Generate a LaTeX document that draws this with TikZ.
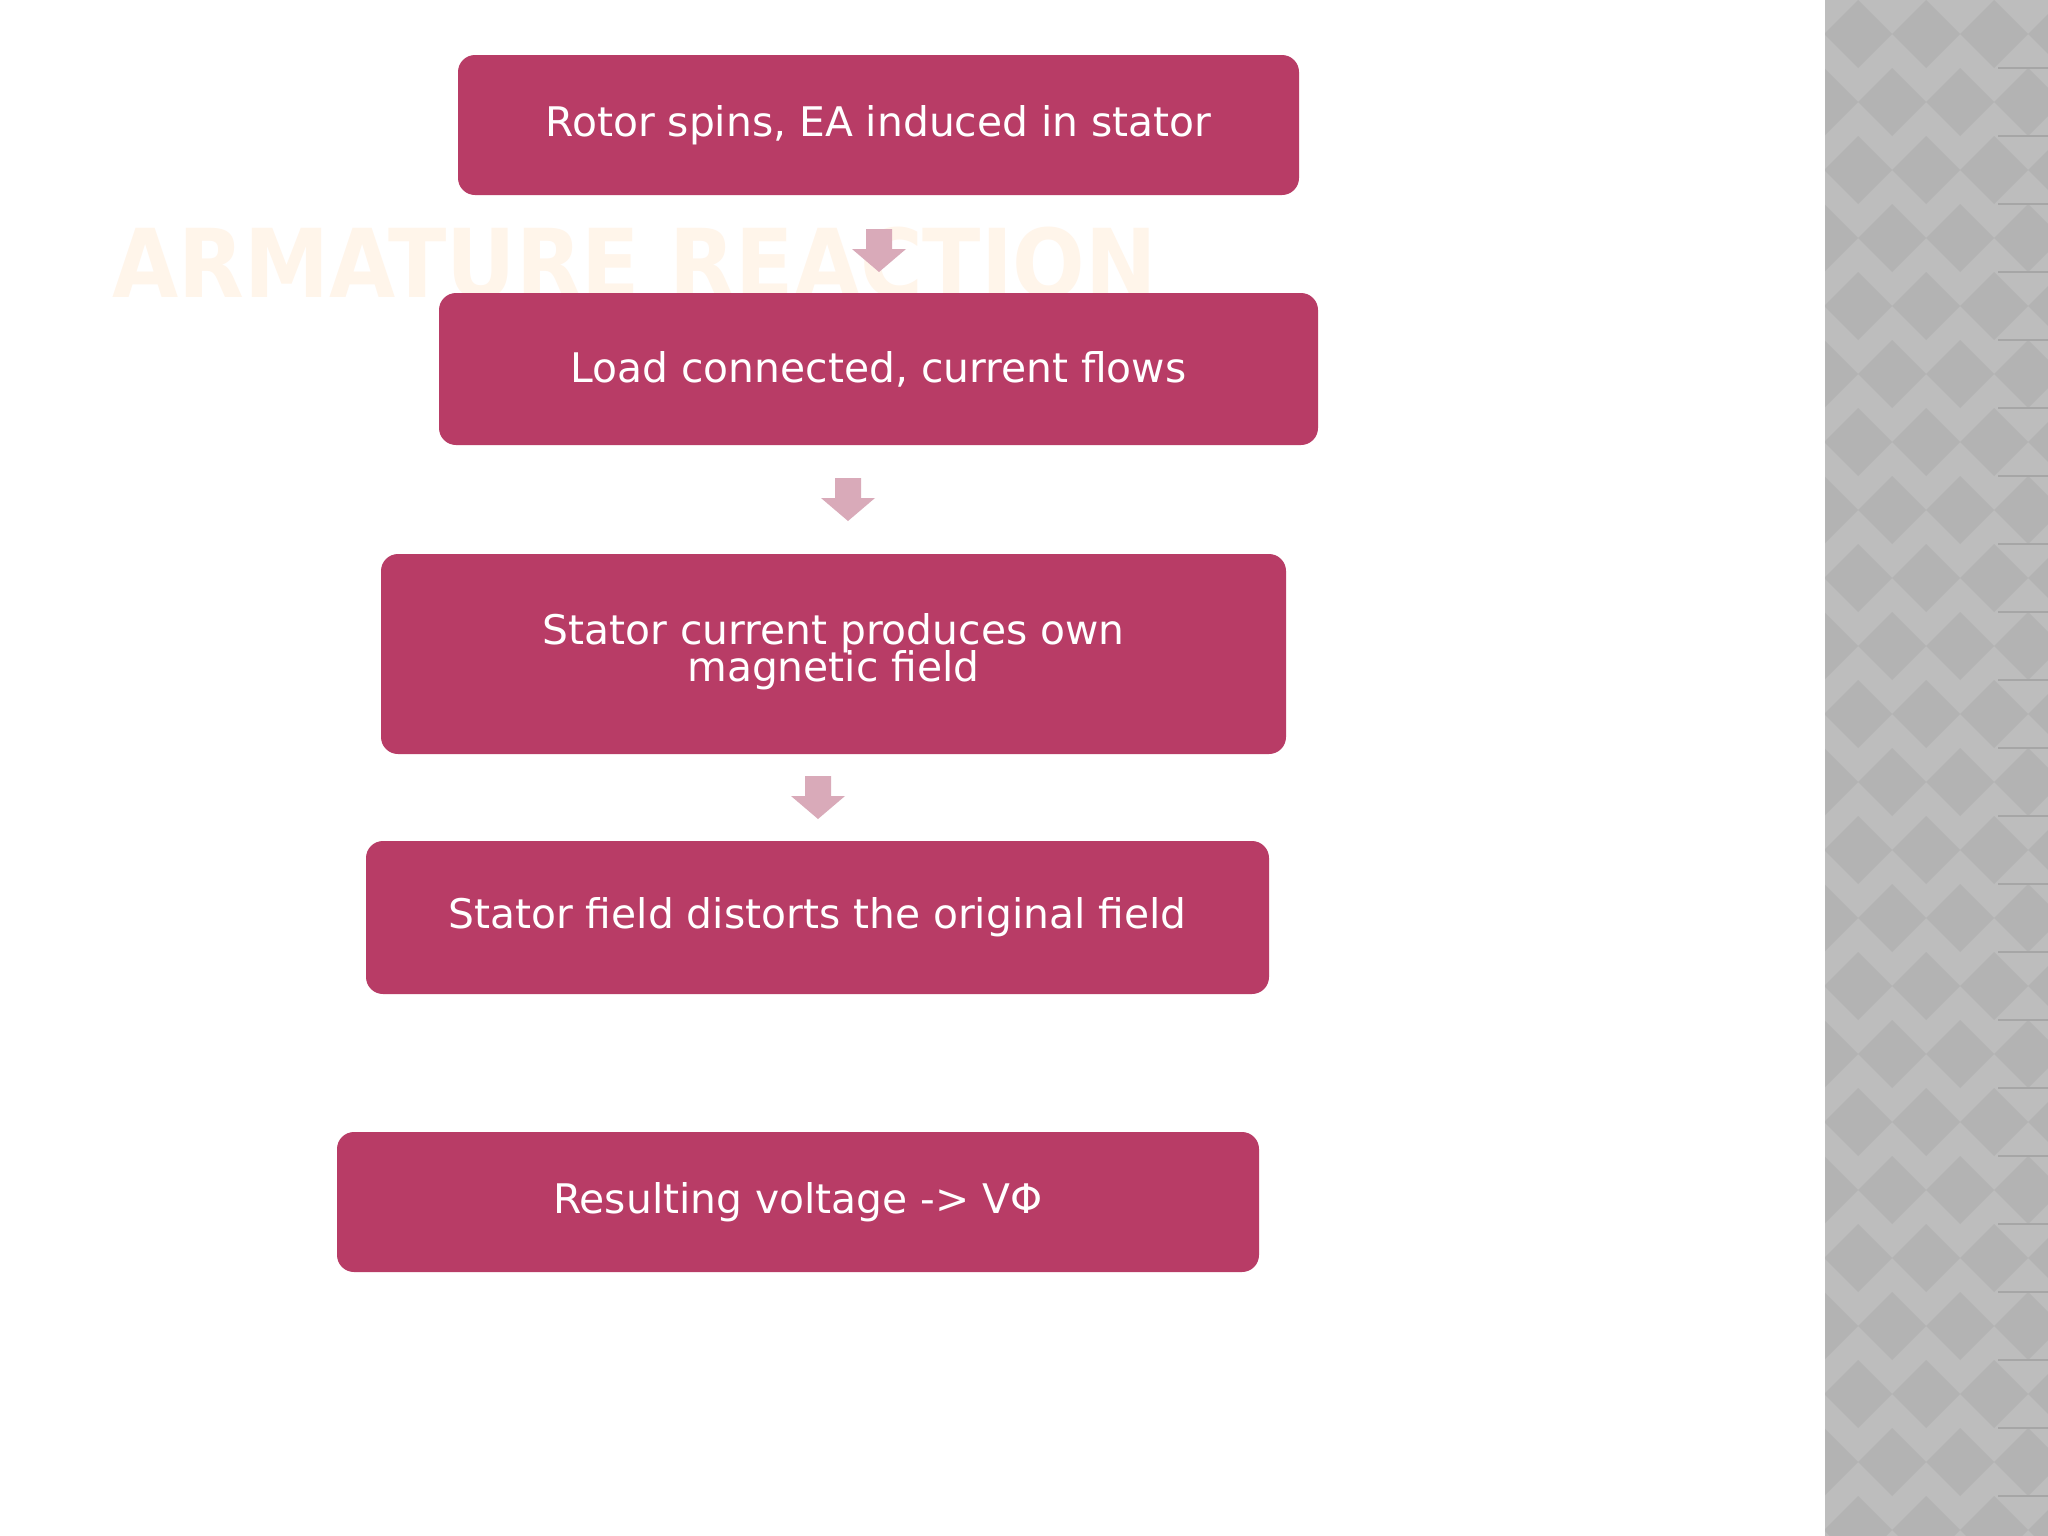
\documentclass[tikz,border=0pt]{standalone}
\usepackage{fontspec}
\setmainfont{DejaVu Sans}
\newfontfamily\titlefont{DejaVu Sans Condensed}
\definecolor{boxc}{HTML}{B83C66}
\definecolor{arrc}{HTML}{D9AAB9}
\definecolor{titc}{HTML}{FFF5EA}
\definecolor{panc}{HTML}{BDBDBD}
\definecolor{pand}{HTML}{B3B3B3}
\begin{document}
\begin{tikzpicture}[x=0.01cm,y=-0.01cm,
  stepbox/.style={fill=boxc,rounded corners=0.17cm,text=white,font=\fontsize{11.6}{13.5}\selectfont,align=center},
  darr/.style={fill=arrc}]
\useasboundingbox (0,0) rectangle (2048,1536);
\fill[white] (0,0) rectangle (2048,1536);
% right panel
\fill[panc] (1825,0) rectangle (2048,1536);
\begin{scope}
\clip (1825,0) rectangle (2048,1536);
\foreach \i in {0,...,9}{\foreach \j in {0,...,12}{
  \fill[pand] ({1790+\i*68},{\j*136}) -- ++(34,34) -- ++(-34,34) -- ++(-34,-34) -- cycle;
  \fill[pand] ({1824+\i*68},{68+\j*136}) -- ++(34,34) -- ++(-34,34) -- ++(-34,-34) -- cycle;
}}
\foreach \j in {0,...,22}{\draw[gray!70,line width=0.4pt] (1998,{68+\j*68}) -- (2048,{68+\j*68});}
\end{scope}
% faint title
\node[anchor=west,text=titc,inner sep=0,font=\titlefont\bfseries\fontsize{27}{27}\selectfont] (title) at (112,263) {ARMATURE REACTION};
% boxes
\fill[boxc,rounded corners=0.17cm] (458,55) rectangle (1299,195);
\node[stepbox,fill=none] (b1) at (878.5,125) {Rotor spins, EA induced in stator};
\path[stepbox] (439,293) rectangle (1318,445);
\node[stepbox,fill=none] (b2) at (878.5,369) {Load connected, current flows};
\path[stepbox] (381,554) rectangle (1286,754);
\node[stepbox,fill=none] (b3) at (833.5,652) {Stator current produces own\\[-3pt]magnetic field};
\path[stepbox] (366,841) rectangle (1269,994);
\node[stepbox,fill=none] (b4) at (817.5,917) {Stator field distorts the original field};
\path[stepbox] (337,1132) rectangle (1259,1272);
\node[stepbox,fill=none] (b5) at (798,1202) {Resulting voltage -> VΦ};
% arrows
\foreach \cx/\ty in {879/229, 848/478, 818/776}{
  \fill[arrc] (\cx-13,\ty) -- (\cx+13,\ty) -- (\cx+13,\ty+20) -- (\cx+27,\ty+20) -- (\cx,\ty+43) -- (\cx-27,\ty+20) -- (\cx-13,\ty+20) -- cycle;
}
\end{tikzpicture}
\end{document}
